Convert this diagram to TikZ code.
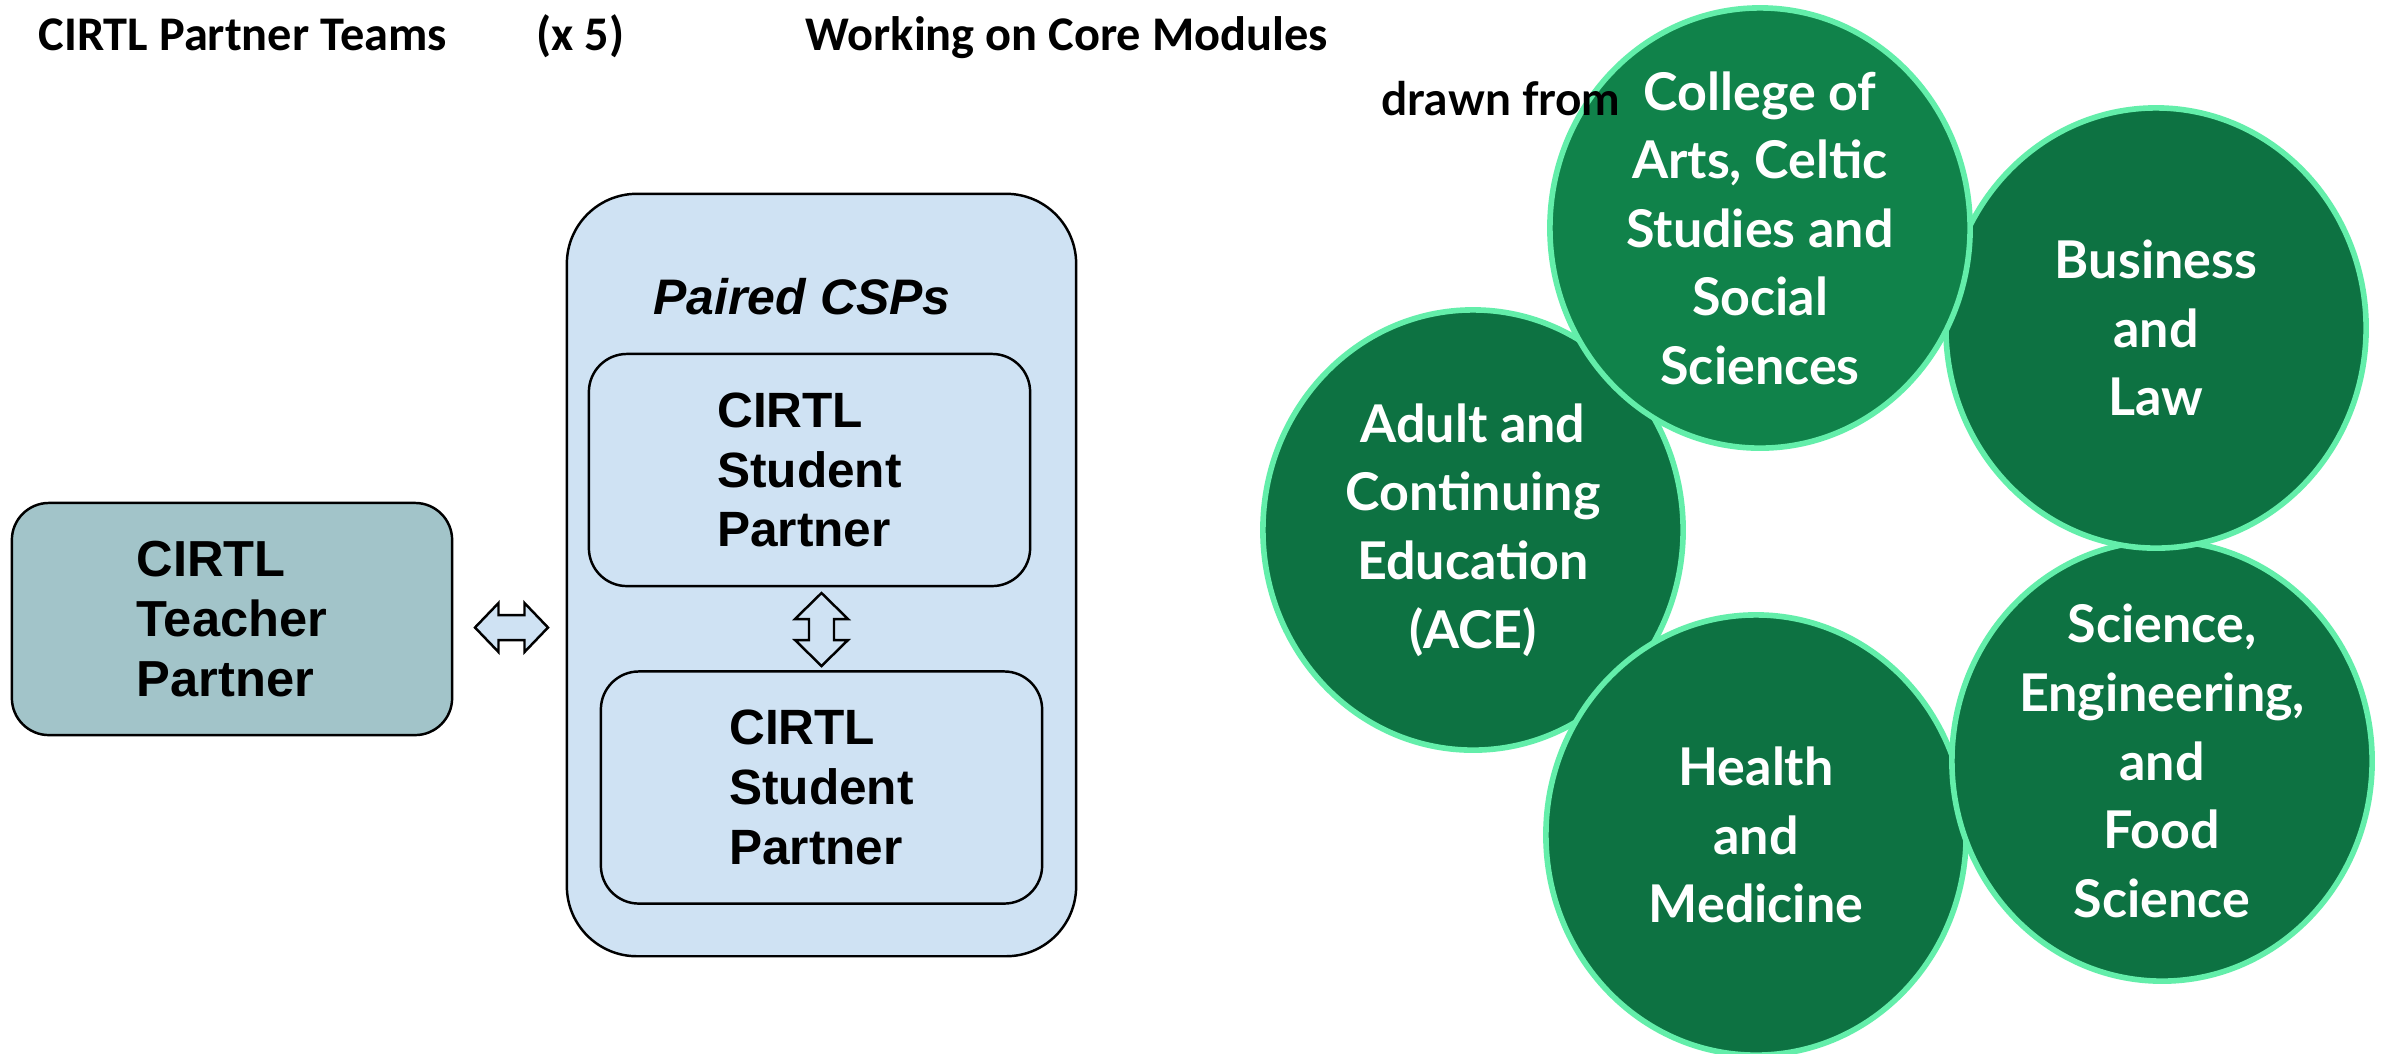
\documentclass[tikz,border=0pt]{standalone}
\usepackage{fontspec}
\setmainfont{Liberation Sans}
\newfontfamily\headfont{Carlito}
\newfontfamily\collfont{Lato}
\usetikzlibrary{shapes.geometric}
\definecolor{tealbox}{HTML}{A2C4C9}
\definecolor{paleblue}{HTML}{CFE2F3}
\definecolor{darkgreen}{HTML}{0D7242}
\definecolor{midgreen}{HTML}{10824A}
\definecolor{mintline}{HTML}{63EEAA}
\begin{document}
\begin{tikzpicture}[x=0.01cm,y=-0.01cm,
  headstyle/.style={anchor=base west,inner sep=0,font=\headfont\bfseries\fontsize{13.75}{16}\selectfont},
  partnerbox/.style={draw,line width=0.7pt,rounded corners=0.38cm,fill=paleblue,minimum width=4.41cm,minimum height=2.32cm,align=left,font=\bfseries\fontsize{14.1}{17}\selectfont},
  college/.style={ellipse,draw=mintline,line width=1.6pt,fill=darkgreen,minimum width=4.2cm,minimum height=4.4cm,inner sep=0},
  circtext/.style={align=center,inner sep=0,text=white,font=\collfont\bfseries\fontsize{14.8}{19.5}\selectfont},
  blockarrow/.style={draw,line width=0.7pt,fill=paleblue,line join=miter}]
\useasboundingbox (0,0) rectangle (2382,1053);
\fill[white] (0,0) rectangle (2382,1053);
% title line
\node[headstyle] (teams) at (38,50) {CIRTL Partner Teams};
\node[headstyle] (times) at (536,50) {(x 5)};
\node[headstyle] (core) at (805,50) {Working on Core Modules};
% partners
\node[partnerbox,fill=tealbox,minimum width=4.4cm,rounded corners=0.37cm,font=\bfseries\fontsize{14.4}{17}\selectfont] (teacher) at (232,619) {CIRTL\\Teacher\\Partner};
\node[draw,line width=0.7pt,rounded corners=0.7cm,fill=paleblue,minimum width=5.09cm,minimum height=7.62cm] (csps) at (821.5,575) {};
\node[anchor=base,inner sep=0,font=\bfseries\itshape\fontsize{14.2}{17}\selectfont] (pairlbl) at (802,314) {Paired CSPs};
\node[partnerbox] (stu1) at (809.5,470) {CIRTL\\Student\\Partner};
\node[partnerbox] (stu2) at (821.5,787.5) {CIRTL\\Student\\Partner};
\coordinate (hmid) at (511.5,627.5);
\coordinate (vmid) at (821.5,629.5);
\draw[blockarrow,shift={(hmid)}] (-36.5,0) -- (-13,-24.5) -- (-13,-12.5) -- (13,-12.5) -- (13,-24.5) -- (36.5,0)
  -- (13,24.5) -- (13,12.5) -- (-13,12.5) -- (-13,24.5) -- cycle;
\draw[blockarrow,shift={(vmid)}] (0,-36.5) -- (26.5,-10.5) -- (12.5,-10.5) -- (12.5,10.5) -- (26.5,10.5) -- (0,36.5)
  -- (-26.5,10.5) -- (-12.5,10.5) -- (-12.5,-10.5) -- (-26.5,-10.5) -- cycle;
% colleges
\node[college] (adult) at (1473,530) {};
\node[circtext] (adulttxt) at (adult.center) {Adult and\\Continuing\\Education\\(ACE)};
\node[college] (health) at (1756,835) {};
\node[circtext] (healthtxt) at (health.center) {Health\\and\\Medicine};
\node[college] (science) at (2162,761) {};
\node[circtext] (sciencetxt) at (science.center) {Science,\\Engineering,\\and\\Food\\Science};
\node[college] (business) at (2156,328) {};
\node[circtext] (businesstxt) at (business.center) {Business\\and\\Law};
\node[college,fill=midgreen] (arts) at (1760,228) {};
\node[circtext] (artstxt) at (arts.center) {College of\\Arts, Celtic\\Studies and\\Social\\Sciences};
\node[anchor=base west,inner sep=0,font=\collfont\bfseries\fontsize{13.1}{16}\selectfont] (drawn) at (1381,115) {drawn from};
\end{tikzpicture}
\end{document}
